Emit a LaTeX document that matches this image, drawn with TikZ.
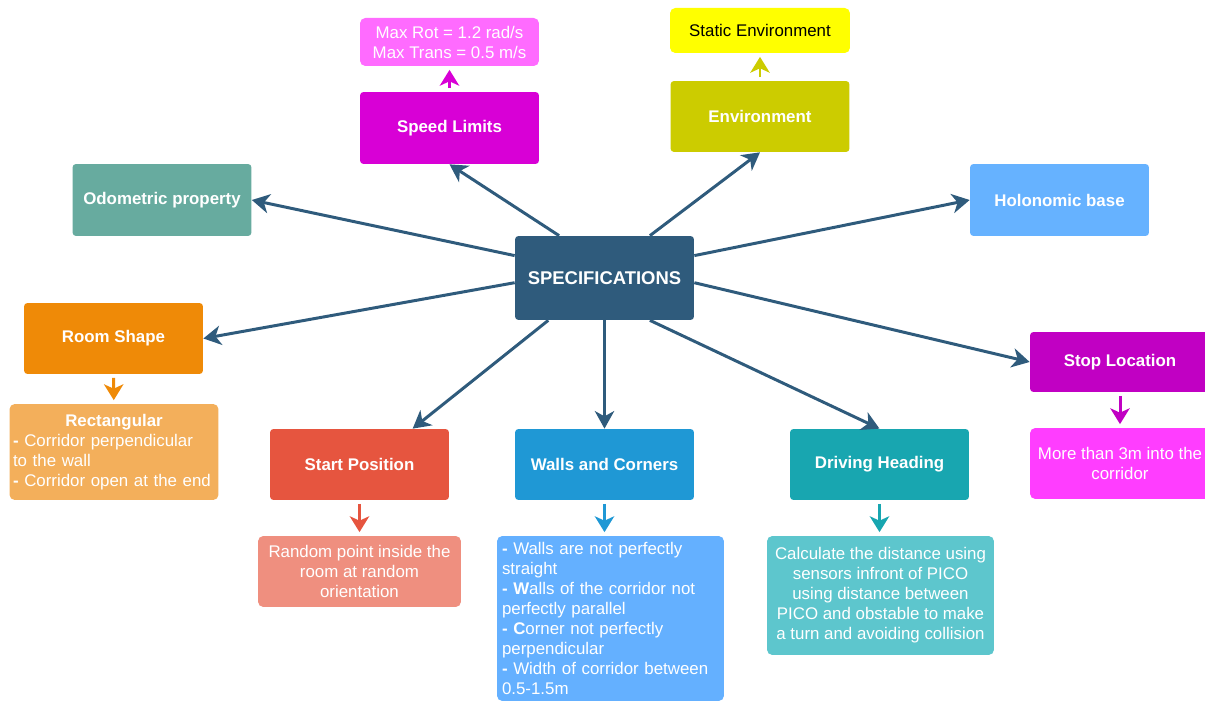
\documentclass[tikz,border=0pt]{standalone}
\usepackage{fontspec}
\setmainfont{Liberation Sans}
\usetikzlibrary{arrows.meta}

\definecolor{specblue}{HTML}{2F5B7C}
\definecolor{speedmag}{HTML}{D800D6}
\definecolor{speedpink}{HTML}{FF6BFF}
\definecolor{envolive}{HTML}{CCCC00}
\definecolor{envyellow}{HTML}{FFFF00}
\definecolor{odoteal}{HTML}{67AB9F}
\definecolor{holoblue}{HTML}{66B2FF}
\definecolor{roomorange}{HTML}{EF8A07}
\definecolor{rectorange}{HTML}{F3AF5B}
\definecolor{startred}{HTML}{E6553F}
\definecolor{startsalmon}{HTML}{EF8F7F}
\definecolor{wallblue}{HTML}{1F98D5}
\definecolor{walllight}{HTML}{64B0FF}
\definecolor{driveteal}{HTML}{18A6B0}
\definecolor{drivelight}{HTML}{5DC6CD}
\definecolor{stoppurple}{HTML}{C100C3}
\definecolor{stoppink}{HTML}{FF3DFF}

\begin{document}
\begin{tikzpicture}[x=0.02cm,y=-0.02cm,
    box/.style={rectangle,rounded corners=2pt,text=white,align=center,inner sep=2pt,
      font=\fontsize{9.6}{11.4}\selectfont\bfseries,minimum width=3.58cm,minimum height=1.42cm},
    note/.style={rectangle,rounded corners=3pt,text=white,inner sep=2pt,
      font=\fontsize{9.6}{11.4}\selectfont},
    link/.style={draw=specblue,line width=1.7pt,-{Stealth[length=10pt,width=11pt,inset=3pt]}},
    sub/.style={line width=1.7pt,-{Stealth[length=9pt,width=11pt,inset=2.5pt]},shorten <=2pt,shorten >=2pt}]
  \clip (0,0) rectangle (1205,702);

  % Centre
  \node[box,fill=specblue,minimum height=1.68cm,font=\fontsize{10.5}{12}\selectfont\bfseries] (spec) at (604.5,278) {SPECIFICATIONS};

  % Top row
  \node[box,fill=speedmag,minimum height=1.44cm] (speed) at (449.5,128) {Speed Limits};
  \node[note,fill=speedpink,minimum width=3.58cm,minimum height=0.96cm,align=center] (maxrot) at (449.5,42) {Max Rot = 1.2 rad/s\\Max Trans = 0.5 m/s};
  \node[box,fill=envolive] (env) at (760,116.5) {Environment};
  \node[note,fill=envyellow,text=black,minimum width=3.6cm,minimum height=0.9cm] (static) at (760,30.5) {Static Environment};

  % Sides
  \node[box,fill=odoteal,minimum height=1.44cm] (odo) at (162,200) {Odometric property};
  \node[box,fill=holoblue,minimum height=1.44cm] (holo) at (1059.5,200) {Holonomic base};
  \node[box,fill=roomorange] (room) at (113.5,338.5) {Room Shape};
  \node[note,fill=rectorange,minimum width=4.16cm,minimum height=1.92cm,text width=4.04cm,align=left] (rect) at (114,452)
    {\makebox[4.04cm][c]{\textbf{Rectangular}}\\\textbf{-} Corridor perpendicular\\to the wall\\\textbf{-} Corridor open at the end};
  \node[box,fill=stoppurple,minimum width=3.6cm,minimum height=1.2cm] (stop) at (1120,362) {Stop Location};
  \node[note,fill=stoppink,minimum width=3.6cm,minimum height=1.42cm,align=center] (more) at (1120,463.5) {More than 3m into the\\corridor};

  % Bottom row
  \node[box,fill=startred] (start) at (359.5,464.5) {Start Position};
  \node[note,fill=startsalmon,minimum width=4.06cm,minimum height=1.42cm,align=center] (random) at (359.5,571.5)
    {Random point inside the\\room at random\\orientation};
  \node[box,fill=wallblue] (walls) at (604.5,464.5) {Walls and Corners};
  \node[note,fill=walllight,minimum width=4.54cm,minimum height=3.3cm,text width=4.34cm,align=left] (wallnote) at (610.5,618.5)
    {\textbf{-} Walls are not perfectly\\straight\\\textbf{- W}alls of the corridor not\\perfectly parallel\\\textbf{- C}orner not perfectly\\perpendicular\\\textbf{-} Width of corridor between\\0.5-1.5m};
  \node[box,fill=driveteal] (drive) at (879.5,464.5) {Driving Heading};
  \node[note,fill=drivelight,minimum width=4.54cm,minimum height=2.38cm,align=center] (calc) at (880.5,595.5)
    {Calculate the distance using\\sensors infront of PICO\\using distance between\\PICO and obstable to make\\a turn and avoiding collision};

  % Links from centre
  \draw[link] (spec.137) -- (speed.south);
  \draw[link] (spec.43) -- (env.south);
  \draw[link] (spec.166) -- (odo.east);
  \draw[link] (spec.14) -- (holo.west);
  \draw[link] (spec.183) -- (room.east);
  \draw[link] (spec.-3) -- (stop.west);
  \draw[link] (spec.-143) -- (start.34);
  \draw[link] (spec.south) -- (walls.north);
  \draw[link] (spec.-43) -- (drive.north);

  % Details
  \draw[sub,draw=speedmag] (speed) -- (maxrot);
  \draw[sub,draw=envolive] (env) -- (static);
  \draw[sub,draw=roomorange] (room) -- (rect);
  \draw[sub,draw=stoppurple] (stop) -- (more);
  \draw[sub,draw=startred] (start) -- (random);
  \draw[sub,draw=wallblue] (walls.south) -- (walls.south |- wallnote.north);
  \draw[sub,draw=driveteal] (drive.south) -- (drive.south |- calc.north);
\end{tikzpicture}
\end{document}
